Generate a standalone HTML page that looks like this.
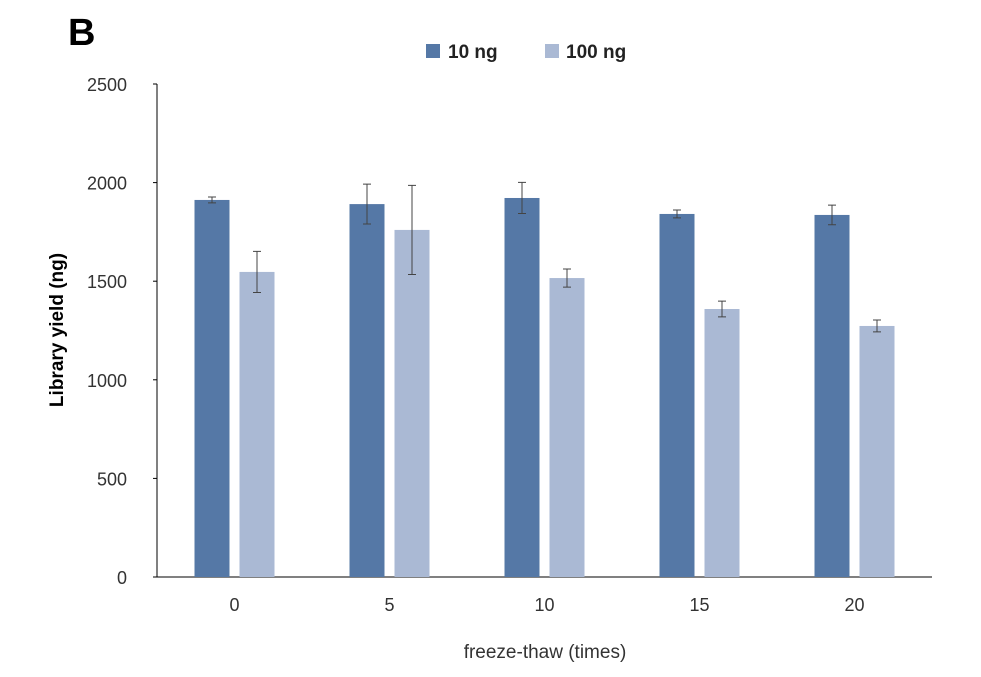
<!DOCTYPE html>
<html><head><meta charset="utf-8">
<style>
html,body{margin:0;padding:0;background:#fff;}
svg{display:block;font-family:"Liberation Sans",sans-serif;}
</style></head>
<body>
<svg id="chart" width="981" height="677" viewBox="0 0 981 677">
<text x="68" y="45" font-size="38" font-weight="bold" fill="#000">B</text>
<g>
<rect x="426" y="44" width="14" height="14" fill="#5578a6"/>
<text x="448" y="58" font-size="19" font-weight="bold" fill="#222">10 ng</text>
<rect x="545" y="44" width="14" height="14" fill="#aab9d4"/>
<text x="566" y="58" font-size="19" font-weight="bold" fill="#222">100 ng</text>
</g>
<text transform="translate(63,330) rotate(-90)" text-anchor="middle" font-size="19" font-weight="bold" fill="#000">Library yield (ng)</text>
<text x="545" y="658" text-anchor="middle" font-size="19" fill="#333">freeze-thaw (times)</text>
<g id="plot"></g>
</svg>
<script>
const categories = ["0","5","10","15","20"];
const series10 = [1912,1891,1922,1841,1836];
const err10 = [15,101,79,20,50];
const series100 = [1547,1760,1516,1359,1273];
const err100 = [104,226,46,40,30];
const yTicks = [0,500,1000,1500,2000,2500];

const NS="http://www.w3.org/2000/svg";
const g=document.getElementById('plot');
const x0=157,x1=932,yBase=577,yTop=84,yMax=2500;
const y=v=>yBase-(v/yMax)*(yBase-yTop);
const band=(x1-x0)/categories.length;
const cx=i=>x0+band*(i+0.5);
function mk(t,a){const e=document.createElementNS(NS,t);for(const k in a)e.setAttribute(k,a[k]);g.appendChild(e);return e;}
let ax=mk('line',{x1:x0,y1:yTop,x2:x0,y2:yBase,stroke:'#000','stroke-width':1});


let bx=mk('line',{x1:x0,y1:yBase,x2:x1,y2:yBase,stroke:'#000','stroke-width':1});


yTicks.forEach(t=>{
  const tk=mk('line',{x1:x0-4,y1:y(t),x2:x0,y2:y(t),stroke:'#000'});
  
  
  const tx=mk('text',{x:127,y:y(t)+7,'text-anchor':'end','font-size':18,fill:'#333'});
  tx.textContent=t;
  
  
});
const bw=35;
function bar(xc,v,e,col,name){
  const r=mk('rect',{x:xc-bw/2,y:y(v),width:bw,height:yBase-y(v),fill:col});
  
  
  const hi=y(v+e),lo=y(v-e);
  const l=mk('path',{d:`M${xc},${hi}V${lo}M${xc-4},${hi}H${xc+4}M${xc-4},${lo}H${xc+4}`,stroke:'#444','stroke-width':1,fill:'none'});
  
  
}
categories.forEach((c,i)=>{
  const m=cx(i);
  bar(m-22.5,series10[i],err10[i],'#5578a6','bar-10ng-'+c);
  bar(m+22.5,series100[i],err100[i],'#aab9d4','bar-100ng-'+c);
  const tx=mk('text',{x:m,y:611,'text-anchor':'middle','font-size':18,fill:'#333'});
  tx.textContent=c;
  
  
});
</script>
</body></html>
